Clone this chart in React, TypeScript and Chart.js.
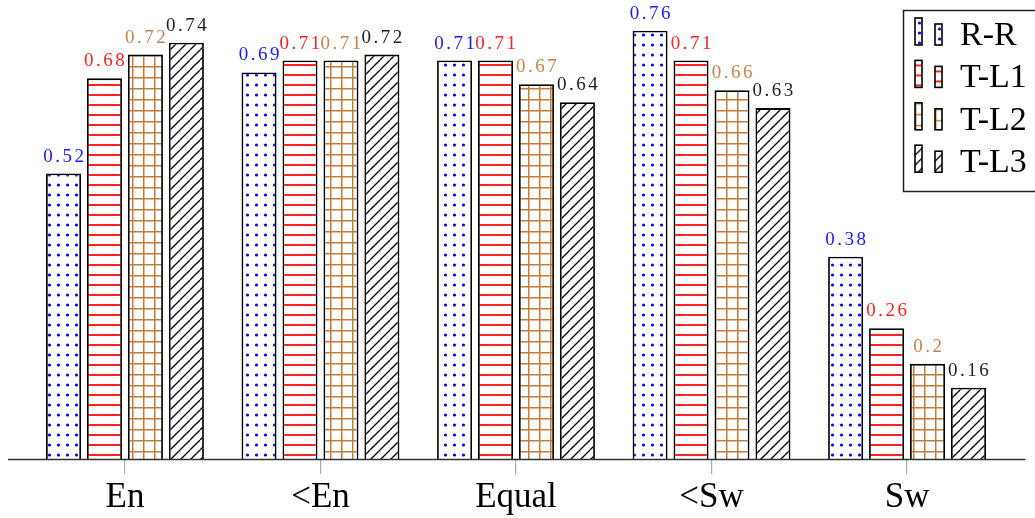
import React, { useEffect, useRef } from "react";
import { Chart, registerables } from "chart.js";

Chart.register(...registerables);

const categories = ["En", "<En", "Equal", "<Sw", "Sw"];
const seriesNames = ["R-R", "T-L1", "T-L2", "T-L3"];
const rrValues = [0.52, 0.69, 0.71, 0.76, 0.38];
const tl1Values = [0.68, 0.71, 0.71, 0.71, 0.26];
const tl2Values = [0.72, 0.71, 0.67, 0.66, 0.2];
const tl3Values = [0.74, 0.72, 0.64, 0.63, 0.16];
const labelColors = ["rgb(25,25,255)", "rgb(255,30,30)", "rgb(200,132,72)", "rgb(30,30,30)"];

const FONT = '"Liberation Serif", "Times New Roman", serif';

function makePattern(ctx: CanvasRenderingContext2D, w: number, h: number, draw: (g: CanvasRenderingContext2D) => void) {
  const c = document.createElement("canvas");
  c.width = w;
  c.height = h;
  const g = c.getContext("2d")!;
  g.fillStyle = "#ffffff";
  g.fillRect(0, 0, w, h);
  draw(g);
  return ctx.createPattern(c, "repeat")!;
}

export default function App() {
  const ref = useRef<HTMLCanvasElement | null>(null);

  useEffect(() => {
    const canvas = ref.current!;
    const ctx = canvas.getContext("2d")!;

    const dots = makePattern(ctx, 9, 10, (g) => {
      g.fillStyle = "#0000ff";
      g.beginPath();
      g.arc(4.5, 5, 1.6, 0, Math.PI * 2);
      g.fill();
    });
    const hlines = makePattern(ctx, 10, 10, (g) => {
      g.fillStyle = "rgb(255,35,35)";
      g.fillRect(0, 4, 10, 2);
    });
    const grid = makePattern(ctx, 11, 11, (g) => {
      g.fillStyle = "rgb(198,125,58)";
      g.fillRect(0, 0, 11, 1.5);
      g.fillRect(0, 0, 1.5, 11);
    });
    const hatch = makePattern(ctx, 10, 10, (g) => {
      g.strokeStyle = "#000000";
      g.lineWidth = 1.3;
      for (const x0 of [-10, 0, 10]) {
        g.beginPath();
        g.moveTo(x0, 10);
        g.lineTo(x0 + 10, 0);
        g.stroke();
      }
    });
    const patterns = [dots, hlines, grid, hatch];
    const values = [rrValues, tl1Values, tl2Values, tl3Values];

    const labelPlugin = {
      id: "valueLabels",
      afterDatasetsDraw(chart: any) {
        const c = chart.ctx;
        c.save();
        // axis line
        c.strokeStyle = "#333333";
        c.lineWidth = 1.4;
        c.beginPath();
        c.moveTo(8, chart.chartArea.bottom + 0.5);
        c.lineTo(1025.5, chart.chartArea.bottom + 0.5);
        c.stroke();

        c.font = `19px ${FONT}`;
        (c as any).letterSpacing = "2.5px";
        c.textAlign = "center";
        c.textBaseline = "alphabetic";
        chart.data.datasets.forEach((ds: any, i: number) => {
          const meta = chart.getDatasetMeta(i);
          meta.data.forEach((bar: any, j: number) => {
            c.fillStyle = labelColors[i];
            c.fillText(String(ds.data[j]), bar.x + 1.25, bar.y - 12);
          });
        });
        c.restore();
      },
      afterDraw(chart: any) {
        const c = chart.ctx;
        c.save();
        c.strokeStyle = "#222222";
        c.lineWidth = 1.5;
        c.fillStyle = "#ffffff";
        c.beginPath();
        c.rect(903.5, 10.5, 140, 181);
        c.fill();
        c.stroke();
        c.font = `34px ${FONT}`;
        c.textAlign = "left";
        c.textBaseline = "alphabetic";
        for (let i = 0; i < seriesNames.length; i++) {
          const base = 45 + 42.4 * i;
          c.save();
          c.translate(915, base - 27);
          c.lineWidth = 1.6;
          c.strokeStyle = "#000000";
          c.fillStyle = patterns[i];
          c.fillRect(0, 0, 7, 27);
          c.strokeRect(0, 0, 7, 27);
          c.translate(20, 6);
          c.fillRect(0, 0, 7, 21);
          c.strokeRect(0, 0, 7, 21);
          c.restore();
          c.fillStyle = "#000000";
          c.fillText(seriesNames[i], 960, base);
        }
        c.restore();
      },
    };

    const chart = new Chart(ctx, {
      type: "bar",
      data: {
        labels: categories,
        datasets: seriesNames.map((name, i) => ({
          label: name,
          data: values[i],
          backgroundColor: patterns[i],
          borderColor: "#000000",
          borderWidth: 1.8,
          borderSkipped: false,
          categoryPercentage: 0.838,
          barPercentage: 0.854,
        })),
      },
      options: {
        responsive: false,
        animation: false,
        devicePixelRatio: 1,
        layout: { padding: { top: 7, left: 27.2, right: 30.2, bottom: 0 } },
        plugins: { legend: { display: false }, tooltip: { enabled: false } },
        scales: {
          x: {
            offset: true,
            afterFit(scale: any) {
              scale.height = 59;
            },
            border: { display: false },
            grid: {
              offset: false,
              drawOnChartArea: false,
              drawTicks: true,
              tickLength: 15,
              color: "#aaaaaa",
              lineWidth: 1.2,
            },
            ticks: {
              color: "#000000",
              padding: 3,
              font: { family: FONT, size: 35 },
              maxRotation: 0,
            },
          },
          y: {
            display: false,
            min: 0.04,
            max: 0.8,
          },
        },
      },
      plugins: [labelPlugin],
    } as any);

    return () => chart.destroy();
  }, []);

  return (
    <div style={{ position: "fixed", left: 0, top: 0, width: 1035, height: 518, background: "#fff" }}>
      <canvas ref={ref} width={1035} height={518} style={{ display: "block", width: 1035, height: 518 }} />
    </div>
  );
}
